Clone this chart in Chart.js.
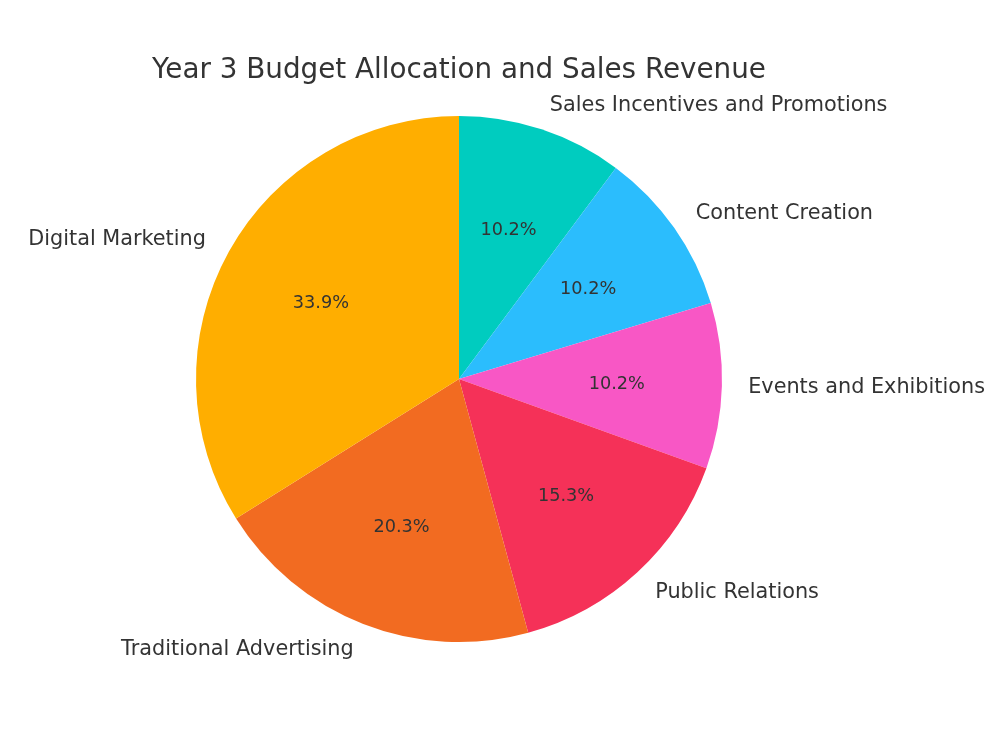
<!DOCTYPE html>
<html>
<head>
<meta charset="utf-8">
<script src="https://cdn.jsdelivr.net/npm/chart.js@4"></script>
<style>
  html, body { margin: 0; padding: 0; background: #fff; }
  #wrap { width: 1000px; height: 750px; }
</style>
</head>
<body>
<div id="wrap"><canvas id="BudgetPie"></canvas></div>
<script>
// Listed clockwise from 12 o'clock (the reference runs counterclockwise)
const categories = ['Sales Incentives and Promotions', 'Content Creation', 'Events and Exhibitions',
                    'Public Relations', 'Traditional Advertising', 'Digital Marketing'];
const budget = [30000, 30000, 30000, 45000, 60000, 100000];
const sliceColors = ['#00CCBF', '#2BBDFD', '#F857C5', '#F53158', '#F26B21', '#FFAE00'];
const chartTitle = 'Year 3 Budget Allocation and Sales Revenue';

const textColor = '#333333';
const fontFamily = '"DejaVu Sans", sans-serif';

// matplotlib style labels: name at 1.1r, percentage at 0.6r
const pieLabels = {
    id: 'pieLabels',
    afterDraw(chart) {
        const ctx = chart.ctx;
        const meta = chart.getDatasetMeta(0);
        const total = budget.reduce((a, b) => a + b, 0);
        ctx.save();
        ctx.fillStyle = textColor;
        ctx.textBaseline = 'middle';

        meta.data.forEach((arc, i) => {
            const mid = (arc.startAngle + arc.endAngle) / 2;
            const r = arc.outerRadius;
            const cos = Math.cos(mid), sin = Math.sin(mid);

            ctx.font = '17.7px ' + fontFamily;
            ctx.textAlign = 'center';
            ctx.fillText((budget[i] / total * 100).toFixed(1) + '%', arc.x + cos * r * 0.6, arc.y + sin * r * 0.6 + 1);

            ctx.font = '20.8px ' + fontFamily;
            ctx.textAlign = cos < 0 ? 'right' : 'left';
            ctx.fillText(categories[i], arc.x + cos * r * 1.1, arc.y + sin * r * 1.1 + 1);
        });

        ctx.font = '27.8px ' + fontFamily;
        ctx.textAlign = 'center';
        ctx.fillText(chartTitle, meta.data[0].x, 71);
        ctx.restore();
    }
};

const chart = new Chart(document.getElementById('BudgetPie').getContext('2d'), {
    type: 'pie',
    data: {
        labels: categories,
        datasets: [{
            data: budget,
            backgroundColor: sliceColors,
            borderWidth: 0
        }]
    },
    options: {
        responsive: true,
        maintainAspectRatio: false,
        animation: false,
        layout: {
            padding: { left: 196, right: 278, top: 116, bottom: 108 }
        },
        plugins: {
            legend: { display: false },
            title: { display: false },
            tooltip: { enabled: false }
        }
    },
    plugins: [pieLabels]
});
</script>
</body>
</html>
